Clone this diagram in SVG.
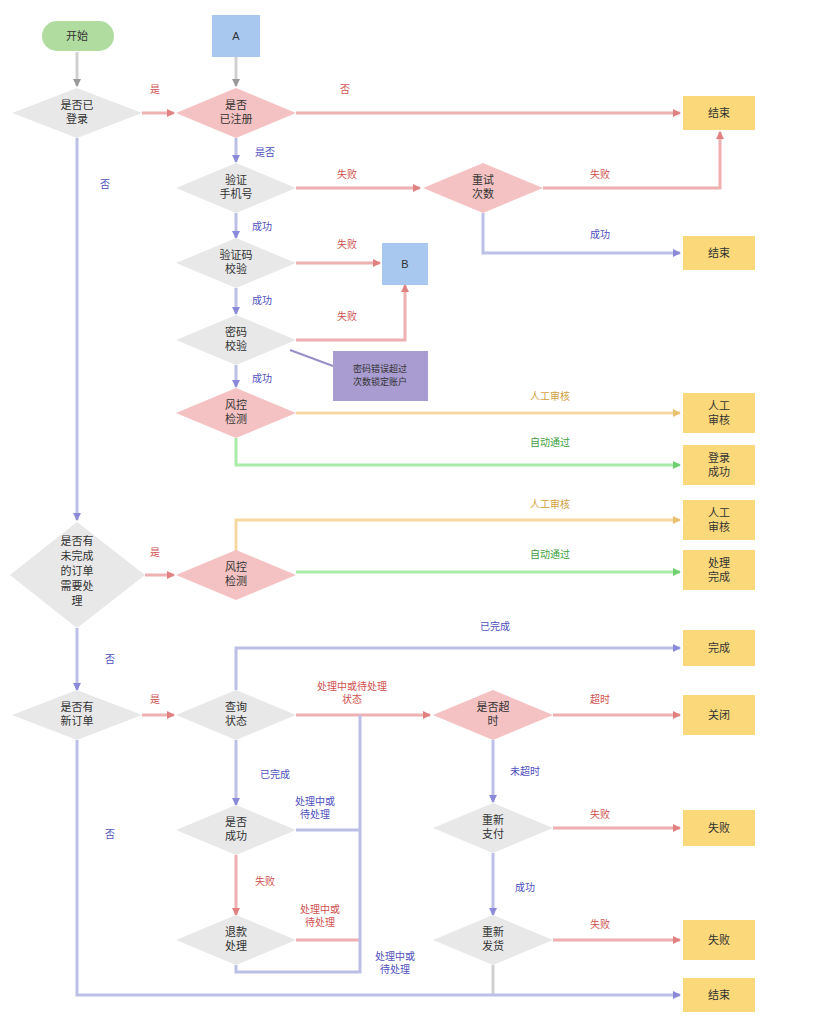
<svg xmlns="http://www.w3.org/2000/svg" width="823" height="1024" viewBox="0 0 823 1024">
<style>
text{font-family:"Liberation Sans","Noto Sans CJK SC",sans-serif;font-size:11px;text-anchor:middle;fill:#333}
.g{fill:#e8e8e8}.p{fill:#f4c2c2}.y{fill:#fbd97a}.b{fill:#a8c8f0}
.lr{fill:none;stroke:#eeb0b0;stroke-width:3}.lb{fill:none;stroke:#bcbfe6;stroke-width:3}
.lo{fill:none;stroke:#f5d9a0;stroke-width:3}.lg{fill:none;stroke:#a8eca8;stroke-width:3}.lk{fill:none;stroke:#d0d0d0;stroke-width:3}
.tr{fill:#d05050;font-size:10px}.tb{fill:#5050c0;font-size:10px}.to{fill:#d0a040;font-size:10px}.tg{fill:#40a040;font-size:10px}
</style>
<defs>
<marker id="ar" markerUnits="userSpaceOnUse" markerWidth="8" markerHeight="8" refX="7" refY="4" orient="auto"><path d="M0,0L8,4L0,8z" fill="#e08080"/></marker>
<marker id="ab" markerUnits="userSpaceOnUse" markerWidth="8" markerHeight="8" refX="7" refY="4" orient="auto"><path d="M0,0L8,4L0,8z" fill="#8a8ad8"/></marker>
<marker id="ao" markerUnits="userSpaceOnUse" markerWidth="8" markerHeight="8" refX="7" refY="4" orient="auto"><path d="M0,0L8,4L0,8z" fill="#e8c070"/></marker>
<marker id="ag" markerUnits="userSpaceOnUse" markerWidth="8" markerHeight="8" refX="7" refY="4" orient="auto"><path d="M0,0L8,4L0,8z" fill="#70d070"/></marker>
<marker id="ak" markerUnits="userSpaceOnUse" markerWidth="8" markerHeight="8" refX="7" refY="4" orient="auto"><path d="M0,0L8,4L0,8z" fill="#999"/></marker>
</defs>
<g id="connectors">
<path class="lk" d="M77,52V86" marker-end="url(#ak)"/>
<path class="lk" d="M236,56V86" marker-end="url(#ak)"/>
<path class="lr" d="M142,113H174" marker-end="url(#ar)"/>
<path class="lr" d="M296,113H680" marker-end="url(#ar)"/>
<path class="lb" d="M236,138V162" marker-end="url(#ab)"/>
<path class="lr" d="M296,188H420" marker-end="url(#ar)"/>
<path class="lr" d="M543,188H720V132" marker-end="url(#ar)"/>
<path class="lb" d="M483,213V253H680" marker-end="url(#ab)"/>
<path class="lb" d="M236,213V238" marker-end="url(#ab)"/>
<path class="lr" d="M296,263H380" marker-end="url(#ar)"/>
<path class="lb" d="M236,288V314" marker-end="url(#ab)"/>
<path class="lr" d="M296,340H405V285" marker-end="url(#ar)"/>
<path fill="none" stroke="#9a90c8" stroke-width="2" d="M290,350L333,366"/>
<path class="lb" d="M236,365V387" marker-end="url(#ab)"/>
<path class="lo" d="M296,413H680" marker-end="url(#ao)"/>
<path class="lg" d="M236,438V465H680" marker-end="url(#ag)"/>
<path class="lb" d="M77,138V520" marker-end="url(#ab)"/>
<path class="lr" d="M145,575H174" marker-end="url(#ar)"/>
<path class="lo" d="M236,552V520H680" marker-end="url(#ao)"/>
<path class="lg" d="M296,572H680" marker-end="url(#ag)"/>
<path class="lb" d="M77,628V690" marker-end="url(#ab)"/>
<path class="lr" d="M142,715H174" marker-end="url(#ar)"/>
<path class="lb" d="M236,690V648H680" marker-end="url(#ab)"/>
<path class="lr" d="M296,715H430" marker-end="url(#ar)"/>
<path class="lr" d="M553,715H680" marker-end="url(#ar)"/>
<path class="lb" d="M493,740V802" marker-end="url(#ab)"/>
<path class="lr" d="M553,828H680" marker-end="url(#ar)"/>
<path class="lb" d="M493,853V915" marker-end="url(#ab)"/>
<path class="lr" d="M553,940H680" marker-end="url(#ar)"/>
<path class="lk" d="M493,965V995"/>
<path class="lb" d="M236,740V805" marker-end="url(#ab)"/>
<path class="lr" d="M236,855V915" marker-end="url(#ar)"/>
<path class="lb" d="M296,830H360"/>
<path class="lr" d="M296,940H360"/>
<path class="lb" d="M236,965V972H360V715"/>
<path class="lb" d="M77,740V995H680" marker-end="url(#ab)"/>
</g>
<g id="labels">
<text class="tr" x="155" y="93">是</text>
<text class="tr" x="345" y="93">否</text>
<text class="tb" x="265" y="156">是否</text>
<text class="tb" x="105" y="188">否</text>
<text class="tr" x="347" y="178">失败</text>
<text class="tr" x="600" y="178">失败</text>
<text class="tb" x="600" y="238">成功</text>
<text class="tb" x="262" y="230">成功</text>
<text class="tr" x="347" y="248">失败</text>
<text class="tb" x="262" y="304">成功</text>
<text class="tr" x="347" y="320">失败</text>
<text class="tb" x="262" y="382">成功</text>
<text class="to" x="550" y="400">人工审核</text>
<text class="tg" x="550" y="446">自动通过</text>
<text class="to" x="550" y="508">人工审核</text>
<text class="tg" x="550" y="558">自动通过</text>
<text class="tr" x="155" y="556">是</text>
<text class="tb" x="110" y="663">否</text>
<text class="tr" x="155" y="703">是</text>
<text class="tb" x="495" y="630">已完成</text>
<text class="tr" x="352" y="690">处理中或待处理</text>
<text class="tr" x="352" y="703">状态</text>
<text class="tr" x="600" y="703">超时</text>
<text class="tb" x="525" y="775">未超时</text>
<text class="tr" x="600" y="818">失败</text>
<text class="tb" x="525" y="891">成功</text>
<text class="tr" x="600" y="928">失败</text>
<text class="tb" x="275" y="778">已完成</text>
<text class="tb" x="315" y="805">处理中或</text>
<text class="tb" x="315" y="818">待处理</text>
<text class="tr" x="265" y="885">失败</text>
<text class="tr" x="320" y="913">处理中或</text>
<text class="tr" x="320" y="926">待处理</text>
<text class="tb" x="395" y="960">处理中或</text>
<text class="tb" x="395" y="973">待处理</text>
<text class="tb" x="110" y="838">否</text>
</g>
<g id="start"><rect x="42" y="21" width="72" height="30" rx="15" fill="#b0dca0"/><text x="77" y="40">开始</text></g>
<g id="a"><rect x="212" y="15" width="48" height="42" class="b"/><text x="236" y="40">A</text></g>
<g id="d1"><polygon points="12,113 77,88 142,113 77,138" class="g"/><text x="77" y="109">是否已</text><text x="77" y="123">登录</text></g>
<g id="d2"><polygon points="176,113 236,88 296,113 236,138" class="p"/><text x="236" y="109">是否</text><text x="236" y="123">已注册</text></g>
<g id="d3"><polygon points="176,188 236,163 296,188 236,213" class="g"/><text x="236" y="184">验证</text><text x="236" y="198">手机号</text></g>
<g id="d4"><polygon points="423,188 483,163 543,188 483,213" class="p"/><text x="483" y="184">重试</text><text x="483" y="198">次数</text></g>
<g id="d5"><polygon points="176,263 236,238 296,263 236,288" class="g"/><text x="236" y="259">验证码</text><text x="236" y="273">校验</text></g>
<g id="b"><rect x="382" y="243" width="46" height="42" class="b"/><text x="405" y="268">B</text></g>
<g id="d6"><polygon points="176,340 236,315 296,340 236,365" class="g"/><text x="236" y="336">密码</text><text x="236" y="350">校验</text></g>
<g id="note"><rect x="333" y="351" width="95" height="50" fill="#a89cd0"/><text x="380" y="372" style="font-size:9px">密码错误超过</text><text x="380" y="385" style="font-size:9px">次数锁定账户</text></g>
<g id="d7"><polygon points="176,413 236,388 296,413 236,438" class="p"/><text x="236" y="409">风控</text><text x="236" y="423">检测</text></g>
<g id="d8"><polygon points="10,575 77,522 145,575 77,628" class="g"/><text x="77" y="545">是否有</text><text x="77" y="560">未完成</text><text x="77" y="575">的订单</text><text x="77" y="590">需要处</text><text x="77" y="605">理</text></g>
<g id="d9"><polygon points="176,575 236,550 296,575 236,600" class="p"/><text x="236" y="571">风控</text><text x="236" y="585">检测</text></g>
<g id="d10"><polygon points="12,715 77,690 142,715 77,740" class="g"/><text x="77" y="711">是否有</text><text x="77" y="725">新订单</text></g>
<g id="d11"><polygon points="176,715 236,690 296,715 236,740" class="g"/><text x="236" y="711">查询</text><text x="236" y="725">状态</text></g>
<g id="d12"><polygon points="433,715 493,690 553,715 493,740" class="p"/><text x="493" y="711">是否超</text><text x="493" y="725">时</text></g>
<g id="d13"><polygon points="176,830 236,805 296,830 236,855" class="g"/><text x="236" y="826">是否</text><text x="236" y="840">成功</text></g>
<g id="d14"><polygon points="176,940 236,915 296,940 236,965" class="g"/><text x="236" y="936">退款</text><text x="236" y="950">处理</text></g>
<g id="d15"><polygon points="433,828 493,803 553,828 493,853" class="g"/><text x="493" y="824">重新</text><text x="493" y="838">支付</text></g>
<g id="d16"><polygon points="433,940 493,915 553,940 493,965" class="g"/><text x="493" y="936">重新</text><text x="493" y="950">发货</text></g>
<g id="e1"><rect x="683" y="96" width="72" height="34" class="y"/><text x="719" y="117">结束</text></g>
<g id="e2"><rect x="683" y="236" width="72" height="34" class="y"/><text x="719" y="257">结束</text></g>
<g id="e3"><rect x="683" y="393" width="72" height="40" class="y"/><text x="719" y="410">人工</text><text x="719" y="424">审核</text></g>
<g id="e4"><rect x="683" y="445" width="72" height="40" class="y"/><text x="719" y="462">登录</text><text x="719" y="476">成功</text></g>
<g id="e5"><rect x="683" y="500" width="72" height="40" class="y"/><text x="719" y="517">人工</text><text x="719" y="531">审核</text></g>
<g id="e6"><rect x="683" y="550" width="72" height="40" class="y"/><text x="719" y="567">处理</text><text x="719" y="581">完成</text></g>
<g id="e7"><rect x="683" y="630" width="72" height="36" class="y"/><text x="719" y="652">完成</text></g>
<g id="e8"><rect x="683" y="695" width="72" height="40" class="y"/><text x="719" y="719">关闭</text></g>
<g id="e9"><rect x="683" y="810" width="72" height="36" class="y"/><text x="719" y="832">失败</text></g>
<g id="e10"><rect x="683" y="920" width="72" height="40" class="y"/><text x="719" y="944">失败</text></g>
<g id="e11"><rect x="683" y="978" width="72" height="34" class="y"/><text x="719" y="999">结束</text></g>
</svg>
